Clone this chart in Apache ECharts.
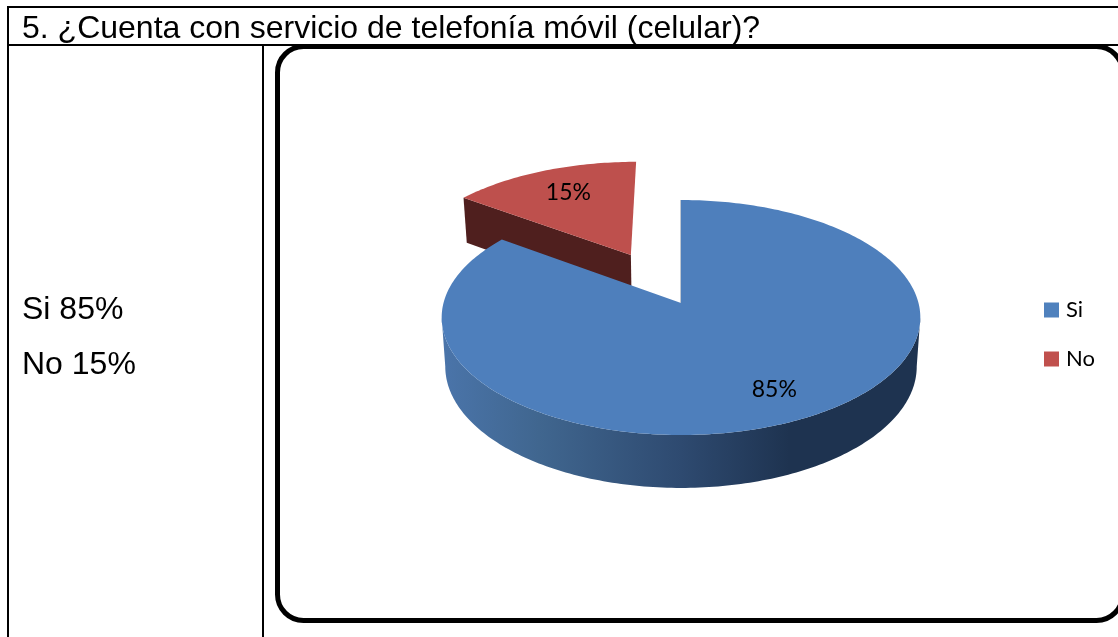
<!DOCTYPE html>
<html><head><meta charset="utf-8">
<style>html,body{margin:0;padding:0;background:#fff}#c{width:1118px;height:637px}</style>
<script src="https://cdn.jsdelivr.net/npm/echarts@6/dist/echarts.min.js"></script>
</head><body><div id="c"></div>
<script>
const categories = ['Si', 'No'];
const values = [85, 15];
const explode = [0, 0.49];
const labelRadius = [0.79, 0.69];
const topColors = ['#4E7FBC', '#BE504D'];
const legendColors = ['#4F81BD', '#C0504D'];
const titleText = '5. ¿Cuenta con servicio de telefonía móvil (celular)?';
const sideLines = ['Si 85%', 'No 15%'];

// perspective projection of the tilted pie
const P = {x0: 681, y0: 303, a: 237.5, b: 115.7, q: 0.1234, dA: 48.5, dC: 3.9, xS: 0.985};
const total = values.reduce((s, v) => s + v, 0);
const fracs = values.map(v => v / total);
const starts = fracs.map((_, i) => fracs.slice(0, i).reduce((s, v) => s + v, 0) * 360);
const rad = d => d * Math.PI / 180;

function plane(x, y, low) {
  const w = 1 - P.q * y;
  const sx = x / w, sy = y / w;
  if (!low) return [P.x0 + P.a * sx, P.y0 + P.b * sy];
  return [P.x0 + P.xS * P.a * sx, P.y0 + P.b * sy + P.dA + P.dC * sy];
}
function pt(theta, r, i, low) {
  const mid = starts[i] + fracs[i] * 180;
  const ex = explode[i] * Math.sin(rad(mid)), ey = -explode[i] * Math.cos(rad(mid));
  return plane(r * Math.sin(rad(theta)) + ex, -r * Math.cos(rad(theta)) + ey, low);
}
function arc(a0, a1, i, low) {
  const out = [], n = Math.max(2, Math.ceil(Math.abs(a1 - a0)));
  for (let k = 0; k <= n; k++) out.push(pt(a0 + (a1 - a0) * k / n, 1, i, low));
  return out;
}
const sideGradient = {type: 'linear', x: 445, y: 0, x2: 917, y2: 0, global: true, colorStops: [
  {offset: 0, color: '#4A74A9'}, {offset: 0.2, color: '#40668F'}, {offset: 0.5, color: '#2E4A70'},
  {offset: 0.73, color: '#1E3350'}, {offset: 1, color: '#1E3350'}]};

function renderSlice(i) {
  return function () {
    const a0 = starts[i], a1 = a0 + fracs[i] * 360;
    const kids = [];
    // wall facing the viewer on the cut edge
    if (i === 1) {
      kids.push({type: 'polygon', shape: {points: [pt(a0, 1, i, false), pt(a0, 0, i, false), pt(a0, 0, i, true), pt(a0, 1, i, true)]},
        style: {fill: '#4F1F1E'}});
    }
    // outer visible side
    const s0 = Math.max(a0, 97), s1 = Math.min(a1, 263);
    if (s1 > s0) {
      const pts = arc(s0, s1, i, false).concat(arc(s1, s0, i, true));
      kids.push({type: 'polygon', shape: {points: pts}, style: {fill: sideGradient}});
    }
    if (i === 0) {
      const p = pt(a0, 1, i, false), c = pt(a0, 0, i, false);
      kids.push({type: 'line', shape: {x1: p[0], y1: p[1], x2: c[0], y2: c[1]}, style: {stroke: '#2A4466', lineWidth: 1, opacity: 0.6}});
    }
    const top = [pt(a0, 0, i, false)].concat(arc(a0, a1, i, false));
    kids.push({type: 'polygon', shape: {points: top}, style: {fill: topColors[i]}});
    const m = pt(a0 + fracs[i] * 180, labelRadius[i], i, false);
    kids.push({type: 'text', style: {x: m[0], y: m[1] - 3, text: values[i] + '%', fill: '#000', align: 'center', verticalAlign: 'middle',
      font: '23px Lato'}});
    return {type: 'group', children: kids};
  };
}

const chart = echarts.init(document.getElementById('c'), null, {renderer: 'canvas'});
const rule = (x1, y1, x2, y2) => ({type: 'line', shape: {x1, y1, x2, y2}, style: {stroke: '#000', lineWidth: 2}, silent: true});
const txt = (x, y, t) => ({type: 'text', x, y, style: {text: t, fill: '#000', font: '32px "Liberation Sans"', verticalAlign: 'middle'}, silent: true});
chart.setOption({
  animation: false,
  backgroundColor: '#fff',
  legend: {
    orient: 'vertical', left: 1039, top: 294, icon: 'rect', itemWidth: 15, itemHeight: 15, itemGap: 27,
    data: categories, selectedMode: false,
    textStyle: {fontFamily: 'Lato', fontSize: 22, color: '#000', padding: [0, 0, 0, 2]}
  },
  graphic: [
    rule(8, 7, 1118, 7), rule(8, 45, 1118, 45), rule(8, 6, 8, 637), rule(263, 45, 263, 637),
    {type: 'rect', shape: {x: 277.5, y: 46.5, width: 845, height: 574, r: 26},
      style: {fill: 'none', stroke: '#000', lineWidth: 5}, silent: true},
    txt(22, 29, titleText), txt(22, 310, sideLines[0]), txt(22, 365, sideLines[1])
  ],
  series: categories.map((name, i) => ({
    type: 'custom', name, coordinateSystem: 'none', silent: true, z: 3 - i,
    itemStyle: {color: legendColors[i]},
    data: [values[i]],
    renderItem: renderSlice(i)
  }))
});
</script></body></html>
